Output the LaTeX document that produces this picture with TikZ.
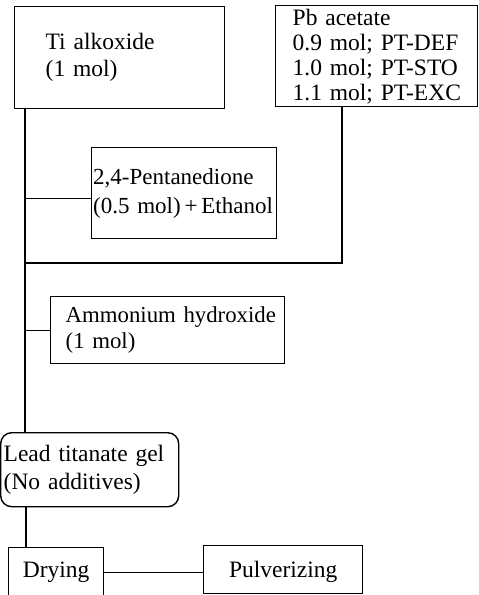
\documentclass[tikz,border=0pt]{standalone}
\usepackage{fontspec}
\setmainfont{Liberation Serif}[WordSpace=2.2]
\begin{document}
\begin{tikzpicture}[x=1pt,y=-1pt,
  every node/.style={font=\fontsize{23.5}{26}\selectfont},
  stage/.style={draw, line width=1.4pt, anchor=north west, inner ysep=0pt, align=left},
  link/.style={line width=1.4pt}]
\useasboundingbox (0,0) rectangle (479,595);

% starting materials
\node[stage, minimum width=210pt, minimum height=102pt, inner xsep=31pt, text width=148pt,
  font=\fontsize{23.5}{27}\selectfont]
  (ti) at (14,6) {\mbox{Ti alkoxide}\\\mbox{(1 mol)}};
\node[stage, minimum width=202pt, minimum height=101pt, inner xsep=17pt, text width=168pt,
  font=\fontsize{23.5}{25}\selectfont]
  (pb) at (275,5) {\mbox{Pb acetate}\\\mbox{0.9 mol; PT-DEF}\\\mbox{1.0 mol; PT-STO}\\\mbox{1.1 mol; PT-EXC}};
\node[stage, minimum width=185pt, minimum height=91pt, inner xsep=1.5pt, text width=182pt,
  font=\fontsize{23}{29}\selectfont]
  (pent) at (91,147) {\mbox{2,4-Pentanedione}\\\mbox{(0.5 mol)\,+\,Ethanol}};
\node[stage, minimum width=234pt, minimum height=67pt, inner xsep=15pt, text width=204pt,
  font=\fontsize{22.8}{26}\selectfont]
  (amm) at (50,296) {\mbox{Ammonium hydroxide}\\\mbox{(1 mol)}};

% gel and processing
\node[stage, rounded corners=11pt, minimum width=178pt, minimum height=74pt, inner xsep=3pt,
  text width=172pt, font=\fontsize{23.5}{28}\selectfont]
  (gel) at (0,432) {\mbox{Lead titanate gel}\\\mbox{(No additives)}};
\node[stage, align=center, minimum width=95pt, minimum height=50pt] (dry) at (8,547) {Drying};
\node[stage, align=center, minimum width=159pt, minimum height=48pt, text depth=0pt]
  (pulv) at (203,545) {Pulverizing};

% connectors
\coordinate (trunk) at ([xshift=11pt]ti.south west);
\coordinate (merge) at (25,263);
\draw[link] (trunk) -- (trunk |- gel.north);
\draw[link] ([yshift=-5.5pt]pent.west) -- ([yshift=-5.5pt]pent.west -| trunk);
\draw[link] ([xshift=67pt]pb.south west) |- (merge);
\draw[link] (amm.west) -- (amm.west -| trunk);
\draw[link] ([xshift=26pt]gel.south west) -- ([xshift=26pt]gel.south west |- dry.north);
\draw[link] (dry.east) -- (dry.east -| pulv.west);
\end{tikzpicture}
\end{document}
